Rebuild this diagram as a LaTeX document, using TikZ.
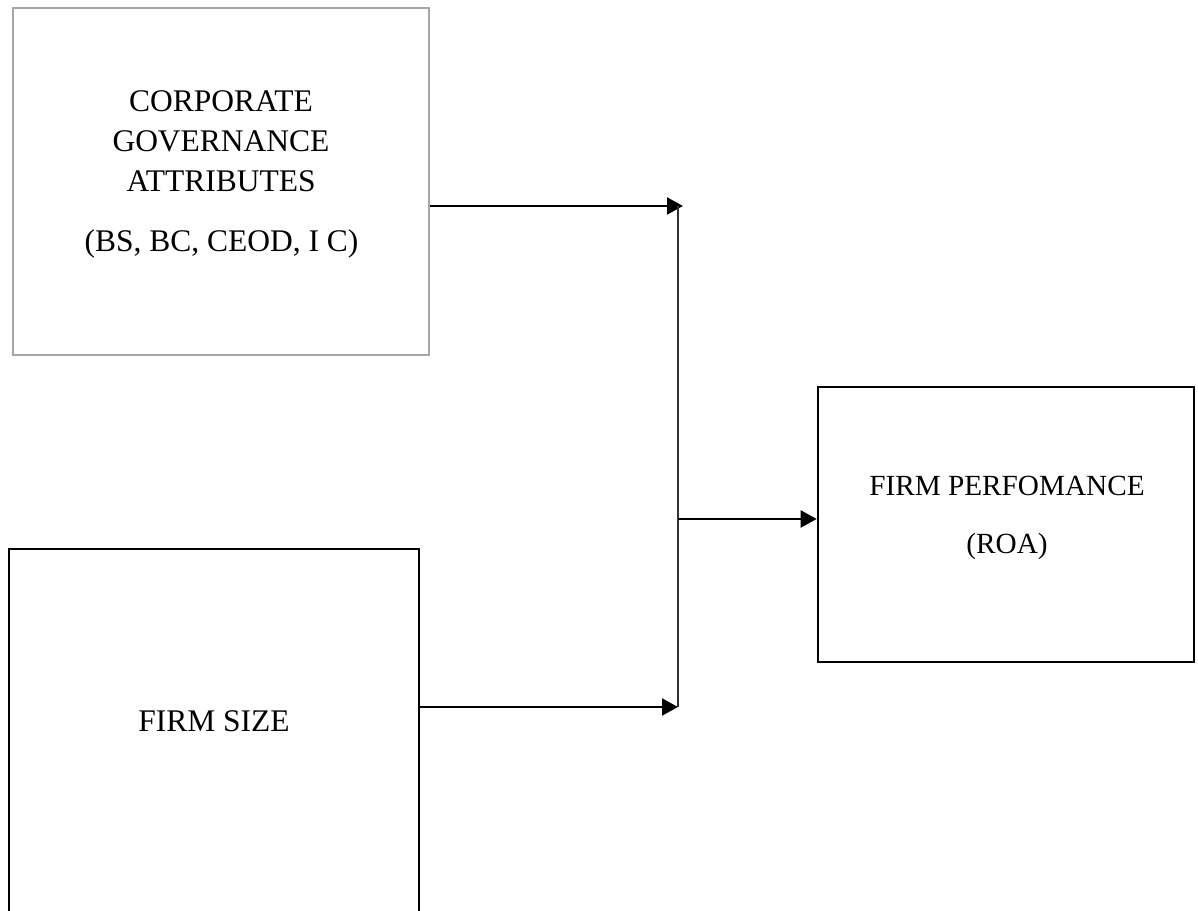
\documentclass[tikz,border=0pt]{standalone}
\usepackage{fontspec}
\setmainfont{Liberation Serif}
\usepackage{tikz}
\usetikzlibrary{arrows.meta, positioning}

\tikzset{
    govbox/.style={draw=black!35, line width=1.6pt, inner sep=0pt},
    blkbox/.style={draw=black, line width=1.8pt, inner sep=0pt},
    txt/.style={inner sep=0pt, anchor=base, font=\fontsize{22.4}{26}\selectfont},
    flow/.style={line width=1.9pt, -{Triangle[length=0.4cm, width=0.42cm]}},
    spine/.style={line width=1.1pt, black!80}
}

\begin{document}
\begin{tikzpicture}[x=0.025cm, y=-0.025cm]
        \useasboundingbox (0,0) rectangle (1198,911);

        % Boxes
        \node[govbox, minimum width=416*0.025cm, minimum height=347*0.025cm] (gov) at (221,181.5) {};
        \node[blkbox, minimum width=410*0.025cm, minimum height=381*0.025cm] (size) at (214,739.5) {};
        \node[blkbox, minimum width=376*0.025cm, minimum height=275*0.025cm] (perf) at (1006,524.5) {};

        % Box texts
        \node[txt] (gov1) at (221,112) {CORPORATE};
        \node[txt] (gov2) at (221,152) {GOVERNANCE};
        \node[txt] (gov3) at (221,192) {ATTRIBUTES};
        \node[txt] (gov4) at (221.5,252) {(BS, BC, CEOD, I C)};
        \node[txt] (size1) at (214,731) {FIRM SIZE};
        \node[txt, font=\fontsize{20.8}{24}\selectfont] (perf1) at (1007,495) {FIRM PERFOMANCE};
        \node[txt, font=\fontsize{20.8}{24}\selectfont] (perf2) at (1007,553) {(ROA)};

        % Junction points
        \coordinate (top) at (678,206);
        \coordinate (tiptop) at (683,206);
        \coordinate (bot) at (678,707);
        \coordinate (mid) at (678,519);

        % Arrows into the junction line
        \draw[flow] (gov.east |- top) -- (tiptop);
        \draw[flow] (size.east |- bot) -- (bot);
        \draw[spine] (top) -- (bot);

        % Arrow to performance
        \draw[flow] (mid) -- (mid -| perf.west);

    \end{tikzpicture}
\end{document}
